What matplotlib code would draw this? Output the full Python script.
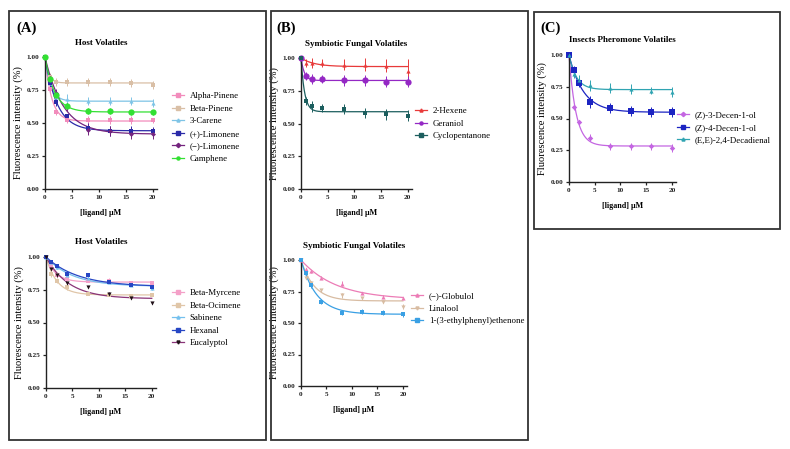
import numpy as np
import matplotlib
matplotlib.use("Agg")
import matplotlib.pyplot as plt
from matplotlib.patches import Rectangle

plt.rcParams['font.family'] = ['Liberation Serif', 'DejaVu Serif']

conc = [0, 1, 2, 4, 8, 12, 16, 20]
xticks = [0, 5, 10, 15, 20]
yticks = [0.00, 0.25, 0.50, 0.75, 1.00]

# Panel A (top): Host Volatiles
a1_names = ['Alpha-Pinene', 'Beta-Pinene', '3-Carene', '(+)-Limonene', '(\u2212)-Limonene', 'Camphene']
a1_vals = [
    [1.00, 0.76, 0.58, 0.52, 0.52, 0.52, 0.52, 0.52],
    [1.00, 0.85, 0.81, 0.81, 0.81, 0.81, 0.80, 0.79],
    [1.00, 0.80, 0.70, 0.68, 0.67, 0.67, 0.67, 0.65],
    [1.00, 0.80, 0.66, 0.55, 0.46, 0.44, 0.44, 0.44],
    [1.00, 0.84, 0.73, 0.62, 0.45, 0.44, 0.42, 0.42],
    [1.00, 0.83, 0.71, 0.63, 0.59, 0.59, 0.58, 0.58],
]
a1_err = [
    [0.00, 0.03, 0.02, 0.02, 0.03, 0.03, 0.03, 0.02],
    [0.00, 0.03, 0.03, 0.03, 0.03, 0.03, 0.03, 0.03],
    [0.00, 0.04, 0.04, 0.04, 0.03, 0.03, 0.03, 0.03],
    [0.00, 0.03, 0.03, 0.02, 0.04, 0.04, 0.04, 0.03],
    [0.00, 0.03, 0.03, 0.03, 0.04, 0.04, 0.04, 0.04],
    [0.00, 0.02, 0.02, 0.02, 0.02, 0.02, 0.02, 0.02],
]
a1_colors = ['#f28cbc', '#d9bfa6', '#7ec4e6', '#2a2aa8', '#74247e', '#33e033']
a1_markers = ['s', 's', '^', 's', 'D', 'o']

# Panel A (bottom): Host Volatiles
a2_names = ['Beta-Myrcene', 'Beta-Ocimene', 'Sabinene', 'Hexanal', 'Eucalyptol']
a2_vals = [
    [1.00, 0.93, 0.86, 0.83, 0.82, 0.82, 0.80, 0.80],
    [1.00, 0.87, 0.82, 0.77, 0.72, 0.71, 0.70, 0.71],
    [1.00, 0.96, 0.92, 0.86, 0.84, 0.81, 0.79, 0.76],
    [1.00, 0.96, 0.93, 0.87, 0.86, 0.81, 0.79, 0.77],
    [1.00, 0.91, 0.86, 0.80, 0.77, 0.72, 0.69, 0.65],
]
a2_err = [
    [0.00, 0.01, 0.01, 0.01, 0.01, 0.02, 0.01, 0.01],
    [0.00, 0.02, 0.02, 0.02, 0.01, 0.01, 0.01, 0.01],
    [0.00, 0.01, 0.01, 0.01, 0.01, 0.01, 0.01, 0.01],
    [0.00, 0.01, 0.01, 0.01, 0.01, 0.01, 0.01, 0.01],
    [0.00, 0.01, 0.01, 0.01, 0.01, 0.01, 0.01, 0.01],
]
a2_colors = ['#f4a0c8', '#e0c6a8', '#74c0ee', '#2646c4', '#8a3478']
a2_mcolors = ['#f4a0c8', '#e0c6a8', '#74c0ee', '#2646c4', '#201018']
a2_markers = ['s', 's', '^', 's', 'v']

# Panel B (top): Symbiotic Fungal Volatiles
b1_names = ['2-Hexene', 'Geraniol', 'Cyclopentanone']
b1_vals = [
    [1.00, 0.96, 0.96, 0.96, 0.95, 0.95, 0.94, 0.90],
    [1.00, 0.86, 0.84, 0.84, 0.83, 0.83, 0.82, 0.82],
    [1.00, 0.67, 0.63, 0.62, 0.61, 0.58, 0.57, 0.56],
]
b1_err = [
    [0.00, 0.03, 0.04, 0.03, 0.04, 0.05, 0.05, 0.09],
    [0.00, 0.03, 0.04, 0.03, 0.04, 0.04, 0.04, 0.04],
    [0.00, 0.03, 0.04, 0.03, 0.04, 0.04, 0.04, 0.04],
]
b1_colors = ['#e83a3a', '#9428c4', '#1c5e5e']
b1_markers = ['^', 'o', 's']

# Panel B (bottom): Symbiotic Fungal Volatiles
b2_names = ['(\u2212)-Globulol', 'Linalool', '1-(3-ethylphenyl)ethenone']
b2_vals = [
    [1.00, 0.93, 0.91, 0.86, 0.81, 0.74, 0.71, 0.70],
    [1.00, 0.86, 0.82, 0.76, 0.72, 0.70, 0.67, 0.63],
    [1.00, 0.90, 0.80, 0.67, 0.58, 0.59, 0.58, 0.57],
]
b2_err = [
    [0.00, 0.01, 0.01, 0.01, 0.02, 0.01, 0.01, 0.01],
    [0.00, 0.01, 0.01, 0.01, 0.02, 0.01, 0.01, 0.02],
    [0.00, 0.02, 0.02, 0.02, 0.02, 0.02, 0.02, 0.02],
]
b2_colors = ['#ec7cb6', '#d8bca2', '#3aa0e4']
b2_markers = ['^', 'v', 's']

# Panel C: Insects Pheromone Volatiles
c_names = ['(Z)-3-Decen-1-ol', '(Z)-4-Decen-1-ol', '(E,E)-2,4-Decadienal']
c_vals = [
    [1.00, 0.59, 0.47, 0.35, 0.28, 0.28, 0.28, 0.27],
    [1.00, 0.88, 0.78, 0.63, 0.58, 0.56, 0.55, 0.55],
    [1.00, 0.85, 0.80, 0.76, 0.74, 0.73, 0.72, 0.71],
]
c_err = [
    [0.00, 0.02, 0.02, 0.03, 0.03, 0.03, 0.03, 0.03],
    [0.00, 0.03, 0.03, 0.05, 0.04, 0.04, 0.04, 0.04],
    [0.00, 0.03, 0.04, 0.04, 0.04, 0.04, 0.03, 0.04],
]
c_colors = ['#c466e2', '#1c24c2', '#30a4b2']
c_markers = ['D', 's', '^']

W, H = 790, 449
fig = plt.figure(figsize=(W / 100, H / 100), dpi=100)


def fit_decay(x, y):
    x = np.asarray(x, float)
    y = np.asarray(y, float)
    best = None
    for k in np.logspace(-2.5, 1.5, 800):
        e = np.exp(-k * x)
        g = 1 - e
        p = np.sum(g * (y - e)) / np.sum(g * g)
        r = np.sum((e + p * g - y) ** 2)
        if best is None or r < best[0]:
            best = (r, k, p)
    return best[1], best[2]


def px_axes(left, top, right, bottom):
    return fig.add_axes([left / W, 1 - bottom / H, (right - left) / W, (bottom - top) / H])


def draw_panel(ax, title, names, vals, errs, colors, markers, leg_x, leg_top,
               mcolors=None, msizes=None):
    xs = np.linspace(0, 20, 300)
    handles = []
    for i, (nm, v, e, c, m) in enumerate(zip(names, vals, errs, colors, markers)):
        mc = mcolors[i] if mcolors else c
        ms = msizes[i] if msizes else 3.0
        k, p = fit_decay(conc, v)
        ax.plot(xs, np.exp(-k * xs) + p * (1 - np.exp(-k * xs)), color=c, lw=0.9,
                zorder=2, clip_on=False)
        ax.errorbar(conc, v, yerr=e, fmt=m, color=mc, ecolor=c, ms=ms, elinewidth=0.7,
                    capsize=1.8, capthick=0.7, zorder=3, clip_on=False, mew=0)
        h, = ax.plot([], [], color=c, lw=0.9, marker=m, ms=2.2, mfc=mc, mec=mc)
        handles.append(h)
    ax.set_xlim(0, 20.8)
    ax.set_ylim(0, 1.0)
    ax.set_xticks(xticks)
    ax.set_yticks(yticks)
    ax.set_yticklabels([f'{t:.2f}' for t in yticks])
    for s in ['top', 'right']:
        ax.spines[s].set_visible(False)
    for s in ['left', 'bottom']:
        ax.spines[s].set_linewidth(1.0)
        ax.spines[s].set_color('#222222')
    ax.tick_params(direction='out', length=2.5, width=0.9, labelsize=5.2, pad=1.5,
                   colors='#222222')
    for lab in ax.get_xticklabels() + ax.get_yticklabels():
        lab.set_fontweight('bold')
    ax.set_title(title, fontsize=6.5, fontweight='bold', pad=9)
    ax.set_xlabel('[ligand] \u03bcM', fontsize=5.8, fontweight='bold', labelpad=7)
    ax.set_ylabel('Fluorescence intensity (%)', fontsize=7.6, labelpad=3)
    fig.legend(handles, names, loc='upper left',
               bbox_to_anchor=(leg_x / W, 1 - leg_top / H), frameon=False,
               fontsize=6.4, handlelength=1.4, handletextpad=0.6, labelspacing=0.48,
               borderaxespad=0, borderpad=0)


axA1 = px_axes(45, 57, 157, 189)
draw_panel(axA1, 'Host Volatiles', a1_names, a1_vals, a1_err, a1_colors, a1_markers,
           172, 92, msizes=[3, 3, 3, 3, 2.5, 4.5])
axA2 = px_axes(46, 257, 156, 388)
draw_panel(axA2, 'Host Volatiles', a2_names, a2_vals, a2_err, a2_colors, a2_markers,
           172, 289, mcolors=a2_mcolors)
axB1 = px_axes(301, 58, 412, 189)
draw_panel(axB1, 'Symbiotic Fungal Volatiles', b1_names, b1_vals, b1_err, b1_colors,
           b1_markers, 415, 107, msizes=[3, 4.5, 3])
axB2 = px_axes(301, 260, 407, 386)
draw_panel(axB2, 'Symbiotic Fungal Volatiles', b2_names, b2_vals, b2_err, b2_colors,
           b2_markers, 411, 292)
axC = px_axes(569, 55, 676, 182)
draw_panel(axC, 'Insects Pheromone Volatiles', c_names, c_vals, c_err, c_colors,
           c_markers, 677, 111, msizes=[2.8, 4, 3])

# panel boxes
for (x0, y0, x1, y1) in [(9, 11, 266, 440), (271, 11, 528, 440), (534, 12, 780, 229)]:
    fig.patches.append(Rectangle((x0 / W, 1 - y1 / H), (x1 - x0) / W, (y1 - y0) / H,
                                 transform=fig.transFigure, fill=False,
                                 edgecolor='#333333', lw=1.3))

for lab, x, y in [('(A)', 16, 28), ('(B)', 276, 28), ('(C)', 540, 28)]:
    fig.text(x / W, 1 - y / H, lab, fontsize=10.5, fontweight='bold', va='center', ha='left')

fig.savefig('out.png', dpi=100)
